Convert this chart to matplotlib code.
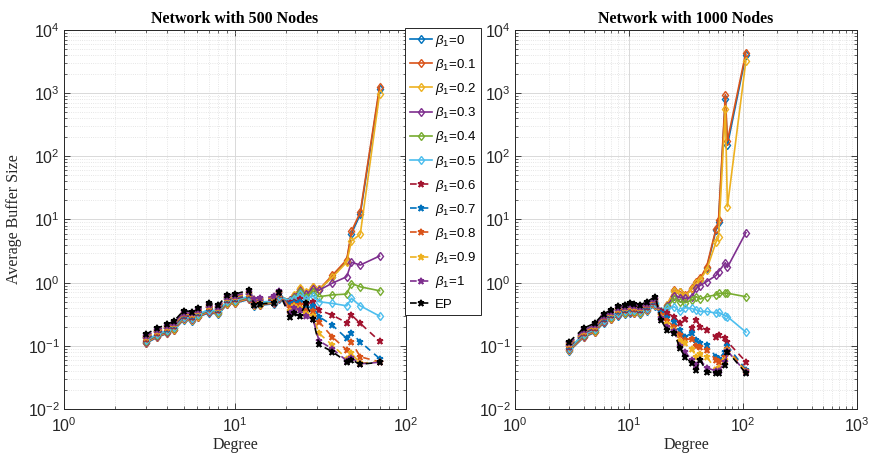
import matplotlib
matplotlib.use('Agg')
import matplotlib.pyplot as plt
from matplotlib.ticker import LogLocator, NullFormatter, FixedLocator

plt.rcParams['font.family'] = ['Liberation Sans', 'DejaVu Sans']
plt.rcParams['mathtext.fontset'] = 'custom'
plt.rcParams['mathtext.rm'] = 'Liberation Sans'
plt.rcParams['mathtext.it'] = 'Liberation Sans:italic'
plt.rcParams['mathtext.bf'] = 'Liberation Sans:bold'

# ---------------- data ----------------
labels = [r'$\beta_1$=0', r'$\beta_1$=0.1', r'$\beta_1$=0.2', r'$\beta_1$=0.3',
          r'$\beta_1$=0.4', r'$\beta_1$=0.5', r'$\beta_1$=0.6', r'$\beta_1$=0.7',
          r'$\beta_1$=0.8', r'$\beta_1$=0.9', r'$\beta_1$=1', 'EP']

deg_500 = [3, 3.5, 4, 4.4, 5, 5.6, 6.1, 7, 8, 9, 10, 12, 13, 14, 17, 18, 21,
           22, 24, 26, 28.5, 31, 37, 45, 48, 54, 70]

n500_b00 = [0.109, 0.136, 0.157, 0.177, 0.258, 0.249, 0.284, 0.335, 0.318, 0.456, 0.473, 0.542, 0.430, 0.439, 0.464, 0.559, 0.50,
            0.6, 0.78, 0.66, 0.83, 0.76, 1.25, 2.2, 6.0, 12, 1150]
n500_b01 = [0.112, 0.139, 0.160, 0.181, 0.264, 0.255, 0.290, 0.343, 0.326, 0.466, 0.484, 0.554, 0.440, 0.449, 0.475, 0.572, 0.52,
            0.62, 0.8, 0.68, 0.85, 0.78, 1.3, 2.3, 6.5, 13, 1250]
n500_b02 = [0.114, 0.142, 0.164, 0.185, 0.270, 0.261, 0.297, 0.351, 0.333, 0.477, 0.495, 0.567, 0.450, 0.459, 0.486, 0.585, 0.54,
            0.63, 0.82, 0.7, 0.86, 0.78, 1.21, 2.1, 4.6, 5.8, 960]
n500_b03 = [0.117, 0.145, 0.167, 0.190, 0.276, 0.267, 0.304, 0.359, 0.340, 0.488, 0.506, 0.580, 0.460, 0.469, 0.497, 0.598, 0.53,
            0.6, 0.75, 0.65, 0.8, 0.76, 0.98, 1.24, 2.1, 1.9, 2.64]
n500_b04 = [0.119, 0.149, 0.171, 0.194, 0.282, 0.273, 0.310, 0.367, 0.348, 0.498, 0.517, 0.592, 0.470, 0.479, 0.508, 0.611, 0.52,
            0.57, 0.7, 0.6, 0.72, 0.6, 0.64, 0.66, 0.97, 0.86, 0.745]
n500_b05 = [0.122, 0.152, 0.175, 0.198, 0.288, 0.278, 0.317, 0.374, 0.355, 0.509, 0.528, 0.605, 0.480, 0.490, 0.518, 0.624, 0.51,
            0.55, 0.65, 0.55, 0.62, 0.5, 0.47, 0.43, 0.565, 0.43, 0.296]
n500_b06 = [0.127, 0.158, 0.182, 0.206, 0.30, 0.29, 0.33, 0.39, 0.37, 0.53, 0.55, 0.63, 0.50, 0.51, 0.54, 0.65, 0.48,
            0.5, 0.55, 0.45, 0.5, 0.368, 0.307, 0.232, 0.307, 0.227, 0.119]
n500_b07 = [0.131, 0.163, 0.187, 0.212, 0.309, 0.299, 0.340, 0.402, 0.381, 0.546, 0.567, 0.649, 0.515, 0.525, 0.556, 0.670, 0.44,
            0.47, 0.5, 0.4, 0.42, 0.289, 0.213, 0.131, 0.158, 0.116, 0.063]
n500_b08 = [0.135, 0.167, 0.193, 0.218, 0.318, 0.307, 0.350, 0.413, 0.392, 0.562, 0.583, 0.668, 0.530, 0.541, 0.572, 0.689, 0.40,
            0.44, 0.45, 0.35, 0.35, 0.24, 0.139, 0.086, 0.116, 0.067, 0.056]
n500_b09 = [0.138, 0.172, 0.198, 0.225, 0.327, 0.316, 0.360, 0.425, 0.403, 0.578, 0.600, 0.687, 0.545, 0.556, 0.589, 0.709, 0.36,
            0.42, 0.4, 0.32, 0.3, 0.158, 0.103, 0.063, 0.076, 0.053, 0.056]
n500_b10 = [0.142, 0.177, 0.204, 0.231, 0.336, 0.325, 0.370, 0.437, 0.414, 0.594, 0.616, 0.706, 0.560, 0.571, 0.605, 0.728, 0.33,
            0.4, 0.37, 0.3, 0.27, 0.12, 0.09, 0.058, 0.065, 0.052, 0.055]
n500_ep = [0.152, 0.190, 0.218, 0.247, 0.360, 0.348, 0.396, 0.468, 0.444, 0.636, 0.660, 0.756, 0.44, 0.46, 0.48, 0.72, 0.29,
           0.33, 0.3, 0.47, 0.27, 0.105, 0.081, 0.056, 0.06, 0.051, 0.055]

deg_1000 = [3, 4, 5, 6, 7, 8, 9.2, 10.2, 11, 12.5, 14.3, 17, 19, 21.5,
            25, 28, 31, 35.5, 39, 42, 48, 58, 61, 70, 73, 106]

n1000_b00 = [0.083, 0.136, 0.163, 0.232, 0.264, 0.301, 0.318, 0.335, 0.327, 0.318, 0.357, 0.430, 0.318, 0.42,
             0.74, 0.7, 0.62, 0.79, 1.0, 1.12, 1.7, 6.8, 9.0, 800, 150, 4000]
n1000_b01 = [0.085, 0.139, 0.167, 0.238, 0.270, 0.308, 0.326, 0.343, 0.334, 0.326, 0.365, 0.440, 0.326, 0.44,
             0.76, 0.72, 0.64, 0.81, 1.03, 1.17, 1.79, 7.2, 9.8, 950, 176, 4400]
n1000_b02 = [0.087, 0.142, 0.171, 0.243, 0.276, 0.315, 0.333, 0.351, 0.342, 0.333, 0.374, 0.450, 0.333, 0.45,
             0.74, 0.70, 0.62, 0.78, 0.98, 1.1, 1.6, 4.4, 5.2, 570, 15.9, 3240]
n1000_b03 = [0.089, 0.145, 0.175, 0.248, 0.282, 0.322, 0.340, 0.359, 0.350, 0.340, 0.382, 0.460, 0.340, 0.43,
             0.62, 0.58, 0.565, 0.59, 0.81, 0.9, 1.04, 1.3, 1.49, 2.07, 1.75, 6.2]
n1000_b04 = [0.091, 0.149, 0.179, 0.254, 0.289, 0.329, 0.348, 0.367, 0.357, 0.348, 0.390, 0.470, 0.348, 0.41,
             0.55, 0.5, 0.48, 0.53, 0.6, 0.55, 0.6, 0.64, 0.68, 0.68, 0.68, 0.6]
n1000_b05 = [0.093, 0.152, 0.182, 0.259, 0.295, 0.336, 0.355, 0.374, 0.365, 0.355, 0.398, 0.480, 0.355, 0.39,
             0.415, 0.35, 0.4, 0.39, 0.37, 0.35, 0.35, 0.33, 0.34, 0.3, 0.29, 0.165]
n1000_b06 = [0.097, 0.158, 0.19, 0.27, 0.307, 0.35, 0.37, 0.39, 0.38, 0.37, 0.415, 0.5, 0.35, 0.33,
             0.29, 0.227, 0.27, 0.19, 0.26, 0.2, 0.178, 0.139, 0.148, 0.131, 0.116, 0.056]
n1000_b07 = [0.100, 0.163, 0.196, 0.278, 0.316, 0.361, 0.381, 0.402, 0.391, 0.381, 0.427, 0.515, 0.33, 0.28,
             0.24, 0.178, 0.139, 0.16, 0.124, 0.11, 0.103, 0.067, 0.063, 0.081, 0.1, 0.042]
n1000_b08 = [0.103, 0.167, 0.201, 0.286, 0.325, 0.371, 0.392, 0.413, 0.403, 0.392, 0.440, 0.530, 0.31, 0.25,
             0.2, 0.15, 0.124, 0.13, 0.1, 0.095, 0.086, 0.06, 0.055, 0.067, 0.09, 0.04]
n1000_b09 = [0.106, 0.172, 0.207, 0.294, 0.335, 0.382, 0.403, 0.425, 0.414, 0.403, 0.452, 0.545, 0.29, 0.22,
             0.18, 0.12, 0.109, 0.09, 0.067, 0.075, 0.067, 0.042, 0.045, 0.06, 0.085, 0.039]
n1000_b10 = [0.109, 0.177, 0.213, 0.302, 0.344, 0.392, 0.414, 0.437, 0.426, 0.414, 0.465, 0.560, 0.28, 0.2,
             0.17, 0.1, 0.08, 0.06, 0.05, 0.06, 0.045, 0.04, 0.04, 0.055, 0.083, 0.038]
n1000_ep = [0.116, 0.19, 0.228, 0.324, 0.368, 0.42, 0.444, 0.468, 0.456, 0.444, 0.498, 0.6, 0.26, 0.178,
            0.158, 0.091, 0.067, 0.053, 0.042, 0.06, 0.039, 0.037, 0.037, 0.05, 0.081, 0.037]

series_500 = [n500_b00, n500_b01, n500_b02, n500_b03, n500_b04, n500_b05,
              n500_b06, n500_b07, n500_b08, n500_b09, n500_b10, n500_ep]
series_1000 = [n1000_b00, n1000_b01, n1000_b02, n1000_b03, n1000_b04, n1000_b05,
               n1000_b06, n1000_b07, n1000_b08, n1000_b09, n1000_b10, n1000_ep]

# ---------------- style ----------------
colors = ['#0072BD', '#D95319', '#EDB120', '#7E2F8E', '#77AC30', '#4DBEEE',
          '#A2142F', '#0072BD', '#D95319', '#EDB120', '#7E2F8E', '#000000']

fig = plt.figure(figsize=(8.72, 4.59), dpi=100)
ax1 = fig.add_axes([64/872, 1-409/459, 342/872, 379/459])
ax2 = fig.add_axes([515/872, 1-409/459, 342/872, 379/459])

def draw(ax, x, series, title, xmax):
    handles = []
    for i, (y, c, lab) in enumerate(zip(series, colors, labels)):
        if i < 6:
            h, = ax.plot(x, y, '-', color=c, lw=1.2, marker='d', ms=4.5,
                         mfc='none', mec=c, mew=1.0, label=lab)
        else:
            h, = ax.plot(x, y, '--', color=c, lw=1.2, marker='*', ms=5,
                         mfc=c, mec=c, mew=1.2, label=lab, dashes=(4, 3))
        handles.append(h)
    ax.set_xscale('log')
    ax.set_yscale('log')
    ax.set_xlim(1, xmax)
    ax.set_ylim(1e-2, 1e4)
    xmaj = [10.0 ** k for k in range(0, 4) if 10.0 ** k <= xmax]
    xmin = [m * 10.0 ** k for k in range(0, 3) for m in range(2, 10) if m * 10.0 ** k < xmax]
    ymaj = [10.0 ** k for k in range(-2, 5)]
    ymin = [m * 10.0 ** k for k in range(-2, 4) for m in range(2, 10)]
    ax.xaxis.set_major_locator(FixedLocator(xmaj))
    ax.xaxis.set_minor_locator(FixedLocator(xmin))
    ax.yaxis.set_major_locator(FixedLocator(ymaj))
    ax.yaxis.set_minor_locator(FixedLocator(ymin))
    ax.set_xticklabels([r'$10^{%d}$' % k for k in range(len(xmaj))])
    ax.set_yticklabels([r'$10^{%d}$' % k for k in range(-2, 5)])
    ax.xaxis.set_minor_formatter(NullFormatter())
    ax.yaxis.set_minor_formatter(NullFormatter())
    ax.grid(True, which='major', color='#d9d9d9', lw=0.7, ls='-')
    ax.grid(True, which='minor', color='#dedede', lw=0.6, ls=':')
    ax.set_axisbelow(True)
    ax.tick_params(which='both', direction='in', top=True, right=True,
                   colors='#262626', labelsize=11.5)
    ax.tick_params(which='major', length=4, width=0.6)
    ax.tick_params(which='minor', length=2, width=0.5)
    ax.tick_params(axis='x', pad=5)
    ax.tick_params(axis='y', pad=3)
    for s in ax.spines.values():
        s.set_color('#262626')
        s.set_linewidth(0.7)
    ax.set_title(title, fontfamily='Liberation Serif', fontweight='bold',
                 fontsize=11.5, pad=5)
    ax.set_xlabel('Degree', fontfamily='Liberation Serif', fontsize=11.5,
                  color='#262626', labelpad=2)
    return handles

h = draw(ax1, deg_500, series_500, 'Network with 500 Nodes', 100)
draw(ax2, deg_1000, series_1000, 'Network with 1000 Nodes', 1000)
ax1.set_ylabel('Average Buffer Size', fontfamily='Liberation Serif',
               fontsize=11.5, color='#262626')
ax1.yaxis.set_label_coords(-0.122, 0.5)

leg = fig.legend(handles=h, loc='upper left', bbox_to_anchor=(405/872, 1-28/459),
                 frameon=True, fancybox=False, edgecolor='#262626',
                 fontsize=9.5, handlelength=1.7, handletextpad=0.25,
                 labelspacing=0.62, borderpad=0.35, borderaxespad=0)
leg.get_frame().set_linewidth(0.7)
leg.get_frame().set_alpha(1)

fig.savefig('out.png', dpi=100)
